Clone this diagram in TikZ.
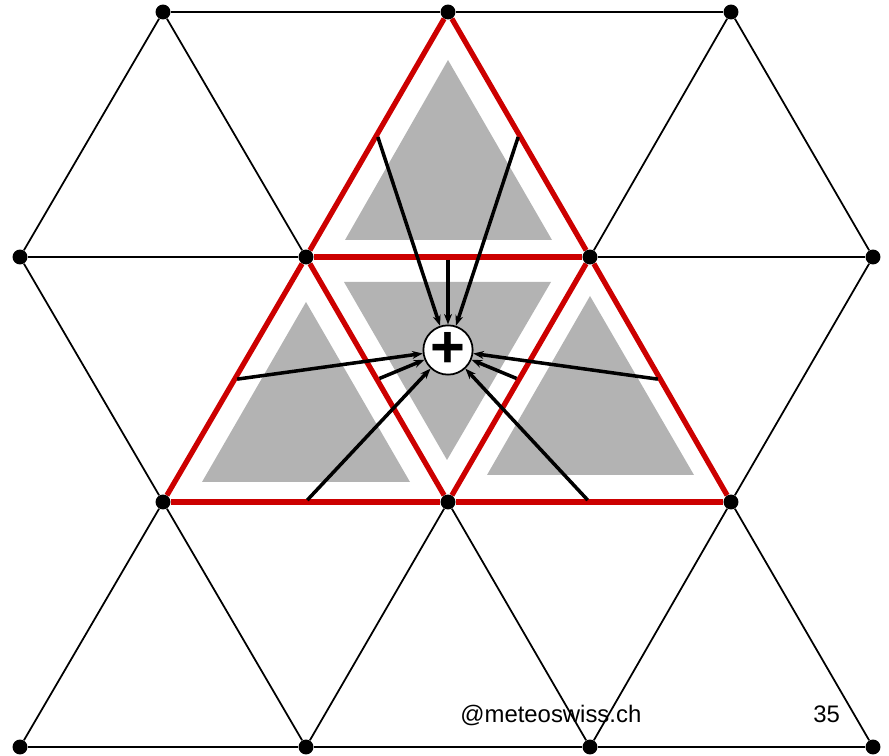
\documentclass[tikz,border=0pt]{standalone}
\usepackage{fontspec}
\setmainfont{Liberation Sans}
\definecolor{edgered}{RGB}{204,0,0}
\definecolor{cellgray}{RGB}{179,179,179}
\usetikzlibrary{arrows.meta,calc}

\begin{document}
\begin{tikzpicture}[x=0.02cm,y=-0.02cm,
  vtx/.style={circle,fill=black,inner sep=0pt,minimum size=8.5pt},
  gridline/.style={line width=1pt},
  redge/.style={edgered,line width=3pt},
  flow/.style={-{Stealth[length=6pt,width=4.5pt]},line width=2pt,shorten <=1.5pt},
  sumnode/.style={circle,draw,fill=white,line width=1pt,inner sep=0pt,minimum size=26.6pt}]
  \useasboundingbox (0,0) rectangle (889,756);
  % Grid vertices
  \foreach \n/\x/\y in {a1/163/12, a2/448/12, a3/731/12,
      b1/20/257, b2/306/257, b3/590/257, b4/873/257,
      c1/163/502, c2/448/502, c3/731/502,
      d1/20/747, d2/306/747, d3/590/747, d4/873/747} {
    \node[vtx] (\n) at (\x,\y) {};
  }
  % Black grid
  \foreach \p/\q in {a1/a2, a2/a3, b1/b2, b2/b3, b3/b4, c1/c2, c2/c3,
      d1/d2, d2/d3, d3/d4, a1/b1, a1/b2, a2/b2, a2/b3, a3/b3, a3/b4,
      b1/c1, b2/c1, b2/c2, b3/c2, b3/c3, b4/c3,
      c1/d1, c1/d2, c2/d2, c2/d3, c3/d3, c3/d4} {
    \draw[gridline] (\p) -- (\q);
  }
  % Gray cells
  \fill[cellgray] (448,60) -- (345,240) -- (552,240) -- cycle;
  \fill[cellgray] (344,282) -- (551,282) -- (447,460) -- cycle;
  \fill[cellgray] (306,302) -- (202,482) -- (410,482) -- cycle;
  \fill[cellgray] (590,296) -- (487,475) -- (694,475) -- cycle;
  % Red triangles
  \foreach \p/\q in {a2/b2, a2/b3, b2/b3, b2/c1, c1/c2, b2/c2, b3/c2, c2/c3, b3/c3} {
    \draw[redge] (\p) -- (\q);
  }
  % Sum at the centre
  \node[sumnode] (sum) at (448,350) {\raisebox{-5pt}{\fontsize{34}{34}\selectfont\bfseries +}};
  % Edge midpoints to the sum
  \foreach \p/\q [count=\i] in {a2/b2, a2/b3, b2/b3, b2/c1, c1/c2, b2/c2, b3/c2, c2/c3, b3/c3} {
    \coordinate (m\i) at ($(\p)!0.5!(\q)$);
    \draw[flow] (m\i) -- (sum);
  }
  % Footer
  \node[anchor=base west,inner sep=0pt,font=\fontsize{13.6}{16}\selectfont] (credit) at (460,722) {@meteoswiss.ch};
  \node[anchor=base west,inner sep=0pt,font=\fontsize{13.6}{16}\selectfont] (pagenum) at (813,722) {35};
\end{tikzpicture}
\end{document}
